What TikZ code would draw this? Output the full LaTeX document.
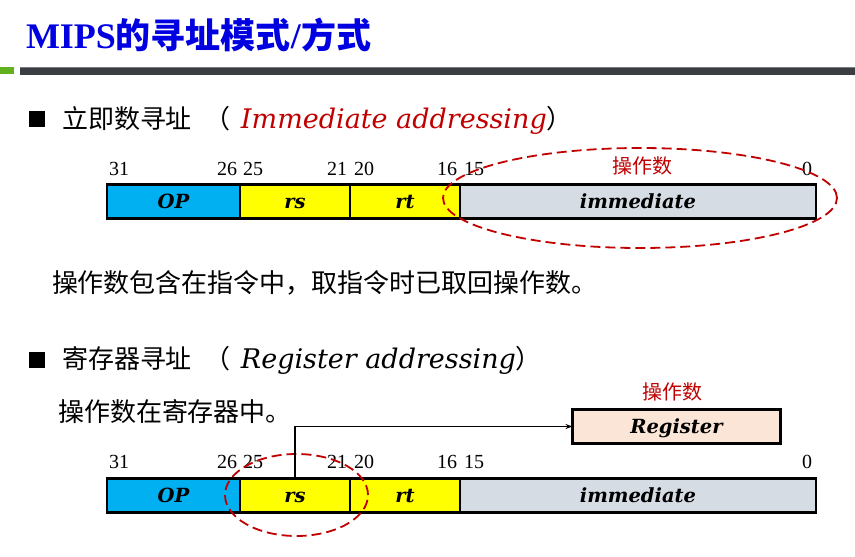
\documentclass[tikz,border=0pt]{standalone}
\usepackage{fontspec}
\setmainfont{Liberation Serif}
\newfontfamily\cjk{Noto Sans CJK SC}
\newfontfamily\dvs{DejaVu Serif}
\usetikzlibrary{arrows.meta,shapes.geometric}

\definecolor{titleblue}{RGB}{0,0,224}
\definecolor{darkred}{RGB}{192,0,0}
\definecolor{opblue}{RGB}{0,176,240}
\definecolor{regyellow}{RGB}{255,255,0}
\definecolor{immgray}{RGB}{214,220,228}
\definecolor{regpeach}{RGB}{251,229,214}
\definecolor{bardark}{RGB}{58,61,66}
\definecolor{bartop}{RGB}{120,124,130}
\definecolor{bargreen}{RGB}{98,176,30}

\tikzset{
  txt/.style={inner sep=0pt, outer sep=0pt},
  body/.style={txt, anchor=base west, font=\cjk\fontsize{26}{26}\selectfont},
  bitno/.style={txt, font=\fontsize{20}{20}\selectfont},
  field/.style={draw=black, line width=2.8pt, minimum height=34pt, inner sep=0pt,
    outer sep=0pt, text height=14pt, text depth=0pt,
    font=\dvs\bfseries\itshape\fontsize{19.5}{19.5}\selectfont},
  bullet/.style={fill=black, minimum size=16pt, inner sep=0pt},
  ring/.style={draw=darkred, line width=1.8pt, dash pattern=on 10pt off 5pt,
    ellipse, inner sep=0pt},
  redlabel/.style={txt, text=darkred, font=\cjk\fontsize{20}{20}\selectfont},
}
% heading: Chinese title, then the English name in italics between full-width parentheses
\newcommand{\engit}[1]{{\dvs\itshape\fontsize{27}{27}\selectfont #1}}
\newcommand{\lparen}{\hspace{13pt}（\hspace{10pt}}

\begin{document}
\begin{tikzpicture}[x=1pt, y=-1pt]
\useasboundingbox (0,0) rectangle (855,557);

% title and header bars
\node[txt, anchor=base west, text=titleblue] (title) at (26,48)
  {{\fontsize{36}{36}\selectfont\bfseries MIPS}{\cjk\bfseries\fontsize{35}{35}\selectfont 的寻址模式}{\fontsize{36}{36}\selectfont\bfseries /}{\cjk\bfseries\fontsize{35}{35}\selectfont 方式}};
\fill[bargreen] (0,67) rectangle (14,74);
\fill[bardark] (20,67) rectangle (855,75);
\fill[bartop] (20,67) rectangle (855,68);

% immediate addressing
\node[bullet] (b1) at (36.5,119) {};
\node[body] (h1) at (62,128)
  {立即数寻址\lparen\textcolor{darkred}{\engit{Immediate addressing}}）};

\node[bitno, anchor=base west] (n131) at (109,175) {31};
\node[bitno, anchor=base east] (n126) at (237,175) {26};
\node[bitno, anchor=base west] (n125) at (243,175) {25};
\node[bitno, anchor=base east] (n121) at (347,175) {21};
\node[bitno, anchor=base west] (n120) at (354,175) {20};
\node[bitno, anchor=base east] (n116) at (457,175) {16};
\node[bitno, anchor=base west] (n115) at (464,175) {15};
\node[bitno, anchor=base east] (n100) at (812,175) {0};

\node[field, fill=opblue,    minimum width=133pt] (op1)  at (173.5,201.5) {OP};
\node[field, fill=regyellow, minimum width=110pt] (rs1)  at (295,201.5)   {rs};
\node[field, fill=regyellow, minimum width=110pt] (rt1)  at (405,201.5)   {rt};
\node[field, fill=immgray,   minimum width=356pt] (imm1) at (638,201.5)   {immediate};

\node[ring, minimum width=394pt, minimum height=100pt] (ring1) at (640,198) {};
\node[redlabel] (opd1) at (642,166) {操作数};

\node[body] (note1) at (52,292) {操作数包含在指令中，取指令时已取回操作数。};

% register addressing
\node[bullet] (b2) at (36.5,360) {};
\node[body] (h2) at (62,368)
  {寄存器寻址\lparen\engit{Register addressing}）};

\node[body] (note2) at (58,421) {操作数在寄存器中。};

\node[redlabel] (opd2) at (672,392) {操作数};
\node[field, fill=regpeach, minimum width=208pt] (reg) at (676.5,426.5) {Register};

\node[bitno, anchor=base west] (n231) at (109,468) {31};
\node[bitno, anchor=base east] (n226) at (237,468) {26};
\node[bitno, anchor=base west] (n225) at (243,468) {25};
\node[bitno, anchor=base east] (n221) at (347,468) {21};
\node[bitno, anchor=base west] (n220) at (354,468) {20};
\node[bitno, anchor=base east] (n216) at (457,468) {16};
\node[bitno, anchor=base west] (n215) at (464,468) {15};
\node[bitno, anchor=base east] (n200) at (812,468) {0};

\node[field, fill=opblue,    minimum width=133pt] (op2)  at (173.5,495.5) {OP};
\node[field, fill=regyellow, minimum width=110pt] (rs2)  at (295,495.5)   {rs};
\node[field, fill=regyellow, minimum width=110pt] (rt2)  at (405,495.5)   {rt};
\node[field, fill=immgray,   minimum width=356pt] (imm2) at (638,495.5)   {immediate};

\node[ring, minimum width=143pt, minimum height=82pt] (ring2) at (296.5,495) {};

\draw[line width=1.4pt, -{Stealth[length=7pt,width=5pt]}] (rs2.north) |- (reg.west);
\end{tikzpicture}
\end{document}
